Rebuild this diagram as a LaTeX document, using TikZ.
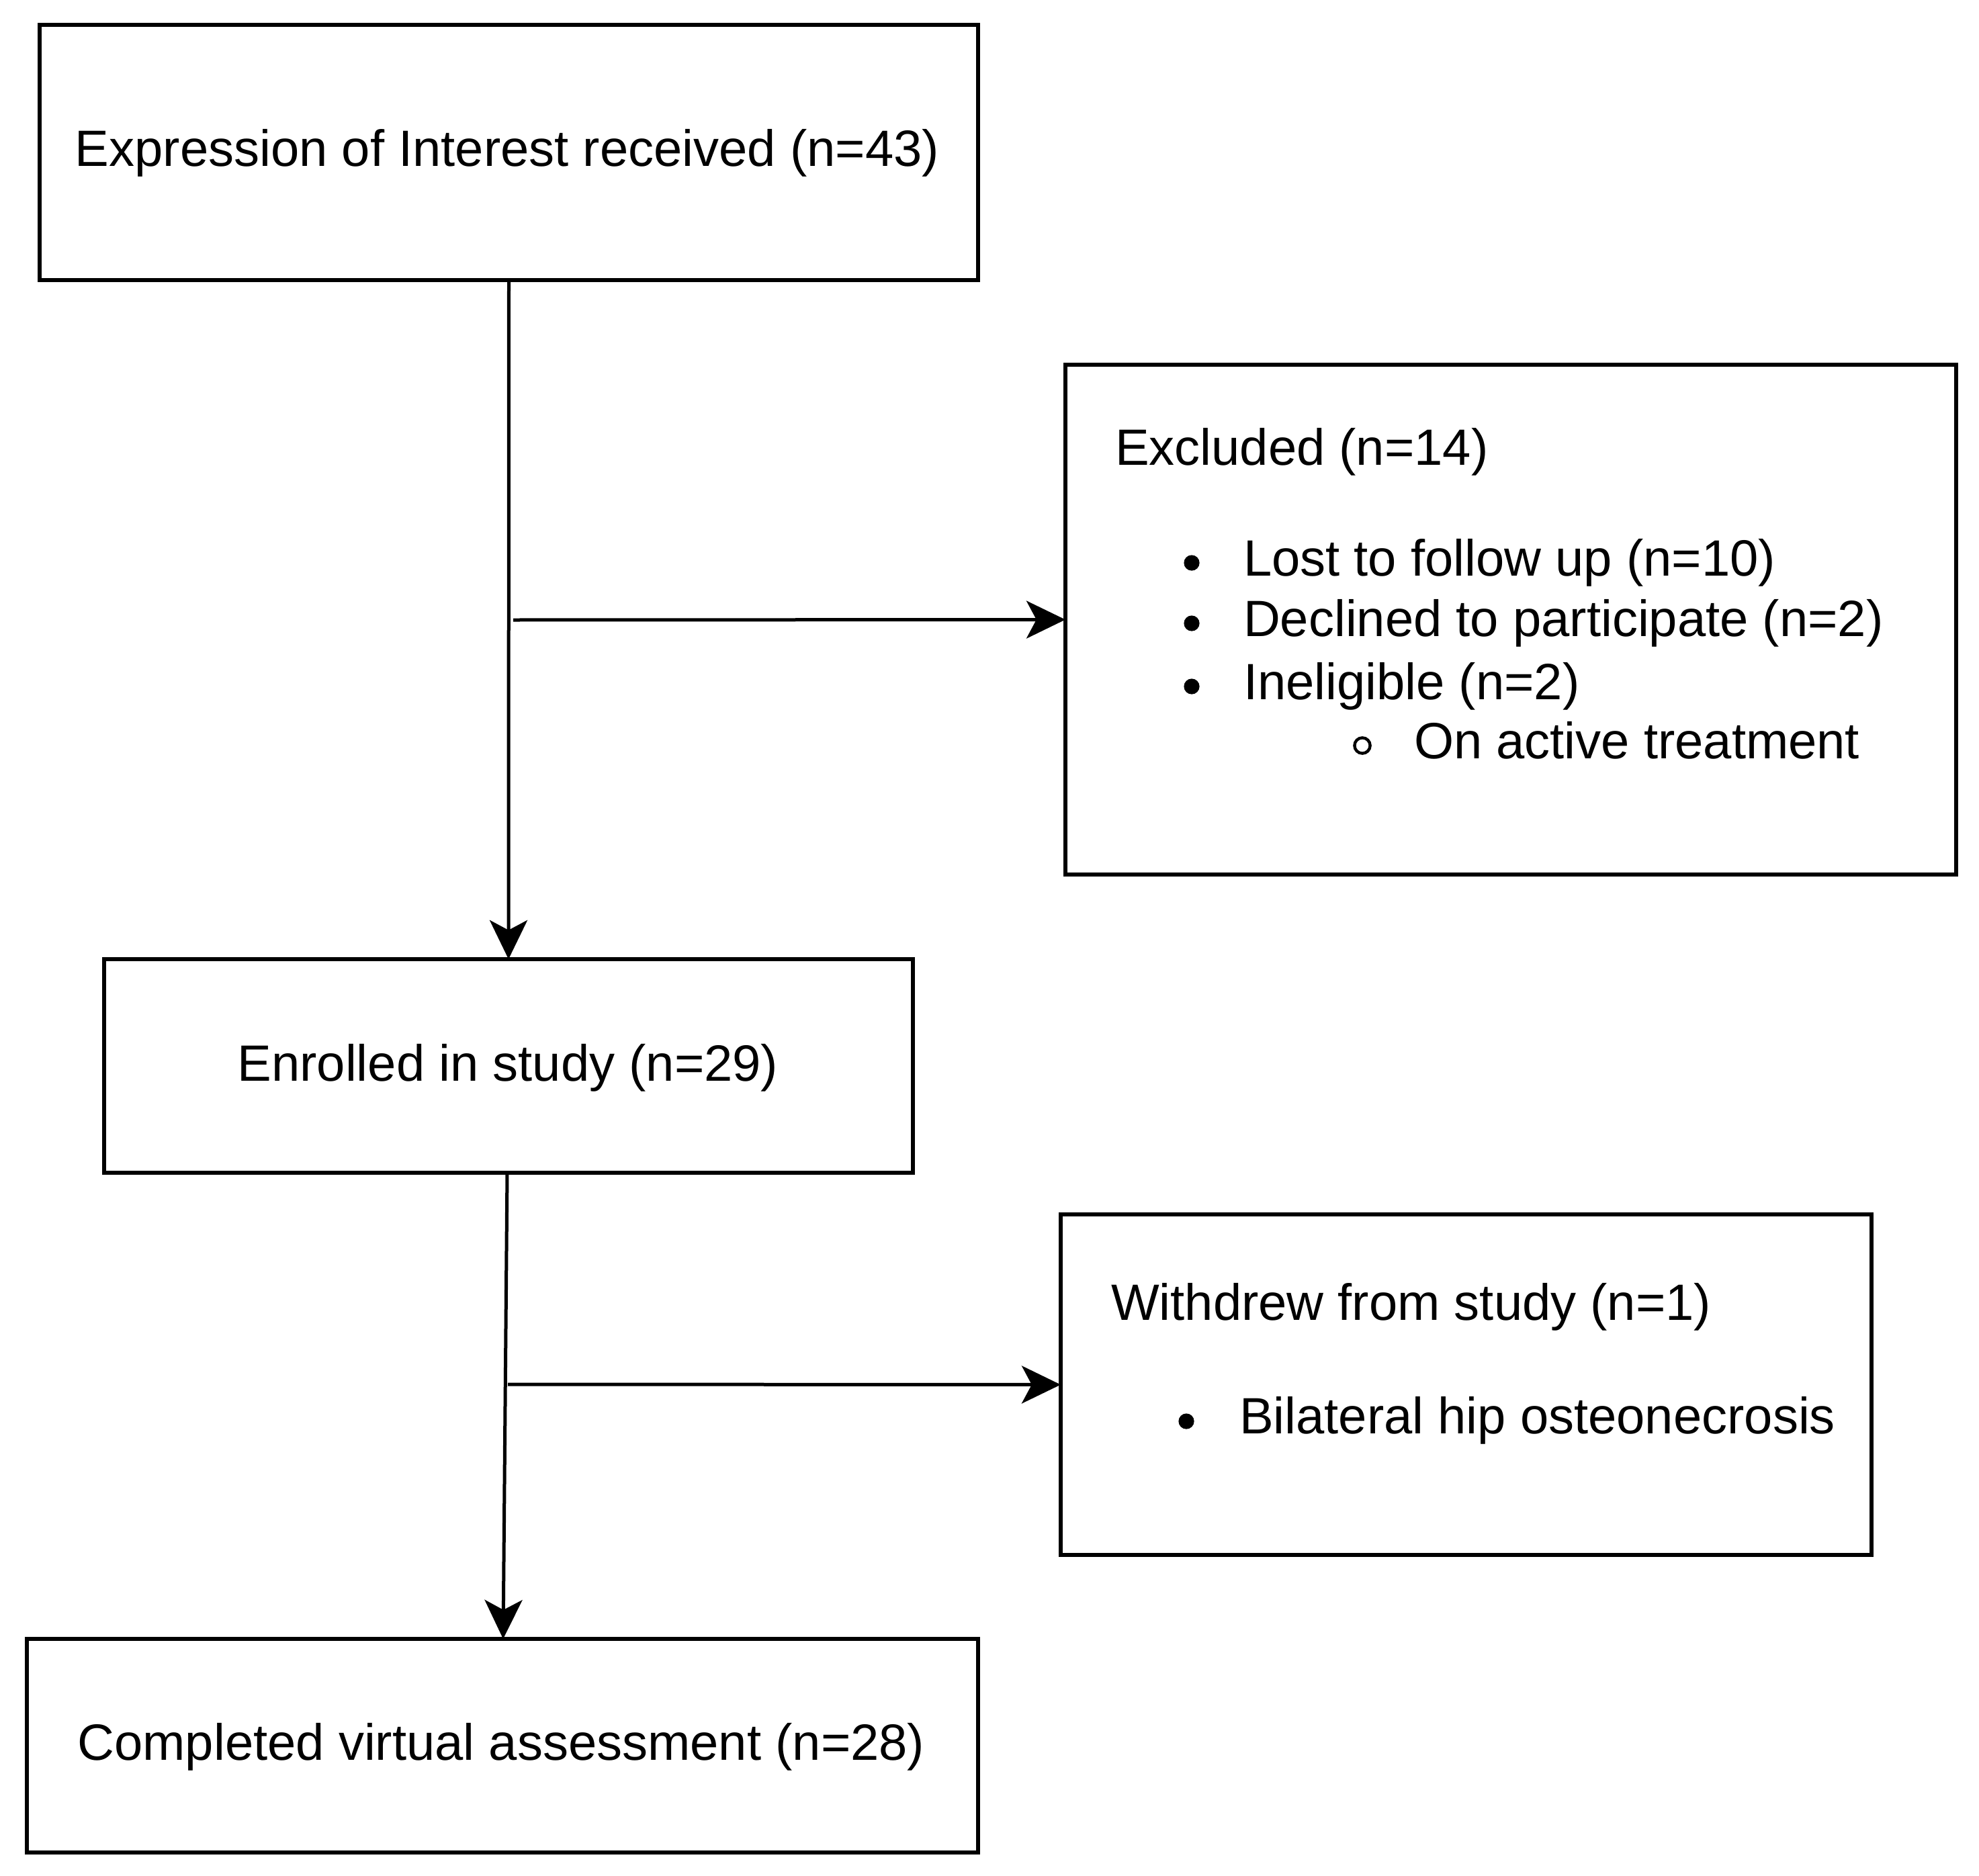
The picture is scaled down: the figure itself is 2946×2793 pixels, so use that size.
\documentclass[tikz,border=0pt]{standalone}
\usepackage{fontspec}
\setmainfont{Liberation Sans}
\usetikzlibrary{arrows.meta}
\begin{document}
\begin{tikzpicture}[x=0.25pt,y=-0.25pt,
  box/.style={draw=black, line width=1.35pt, rectangle, inner sep=0pt, outer sep=0pt},
  txt/.style={inner sep=0pt, outer sep=0pt, font=\fontsize{19}{23}\selectfont},
  conn/.style={line width=1.25pt, -{Stealth[length=14.5pt,width=14pt,inset=3.7pt]}},
  dotbullet/.style={fill=black, circle, inner sep=0pt, outer sep=0pt, minimum size=5.8pt},
  ringbullet/.style={draw=black, circle, line width=1.1pt, inner sep=0pt, outer sep=0pt, minimum size=5.8pt}]
\useasboundingbox (0,0) rectangle (2946,2793);

% boxes
\node[box, minimum width=349.25pt, minimum height=95pt] (eoi) at (757.5,227) {};
\node[box, minimum width=331.5pt, minimum height=189.75pt] (excl) at (2249,922.5) {};
\node[box, minimum width=301pt, minimum height=79.5pt] (enr) at (757,1587) {};
\node[box, minimum width=301.75pt, minimum height=126.75pt] (wd) at (2182.5,2061.5) {};
\node[box, minimum width=354pt, minimum height=79.5pt] (comp) at (748,2599) {};

% texts
\node[txt, anchor=base] (eoit) at (755,248) {Expression of Interest received (n=43)};
\node[txt, anchor=base] (enrt) at (756,1609) {Enrolled in study (n=29)};
\node[txt, anchor=base] (compt) at (746,2620) {Completed virtual assessment (n=28)};

\node[txt, anchor=base west] (exclt) at (1660,692) {Excluded (n=14)};
\node[dotbullet] (b1) at (1774,838) {};
\node[txt, anchor=base west] (l1) at (1851,857) {Lost to follow up (n=10)};
\node[dotbullet] (b2) at (1774,928) {};
\node[txt, anchor=base west] (l2) at (1851,947) {Declined to participate (n=2)};
\node[dotbullet] (b3) at (1774,1022) {};
\node[txt, anchor=base west] (l3) at (1851,1041) {Ineligible (n=2)};
\node[ringbullet] (b4) at (2028,1110) {};
\node[txt, anchor=base west] (l4) at (2105,1129) {On active treatment};

\node[txt, anchor=base west] (wdt) at (1654,1965) {Withdrew from study (n=1)};
\node[dotbullet] (b5) at (1766,2116) {};
\node[txt, anchor=base west] (l5) at (1845,2134) {Bilateral hip osteonecrosis};

% connectors
\coordinate (j1) at (764,923);
\coordinate (j2) at (756,2061);
\draw[conn] (eoi.south) -- (enr.north);
\draw[conn] (j1) -- (excl.west);
\draw[conn] ([xshift=-0.5pt]enr.south) -- ([xshift=0.25pt]comp.north);
\draw[conn] (j2) -- (wd.west);
\end{tikzpicture}
\end{document}
